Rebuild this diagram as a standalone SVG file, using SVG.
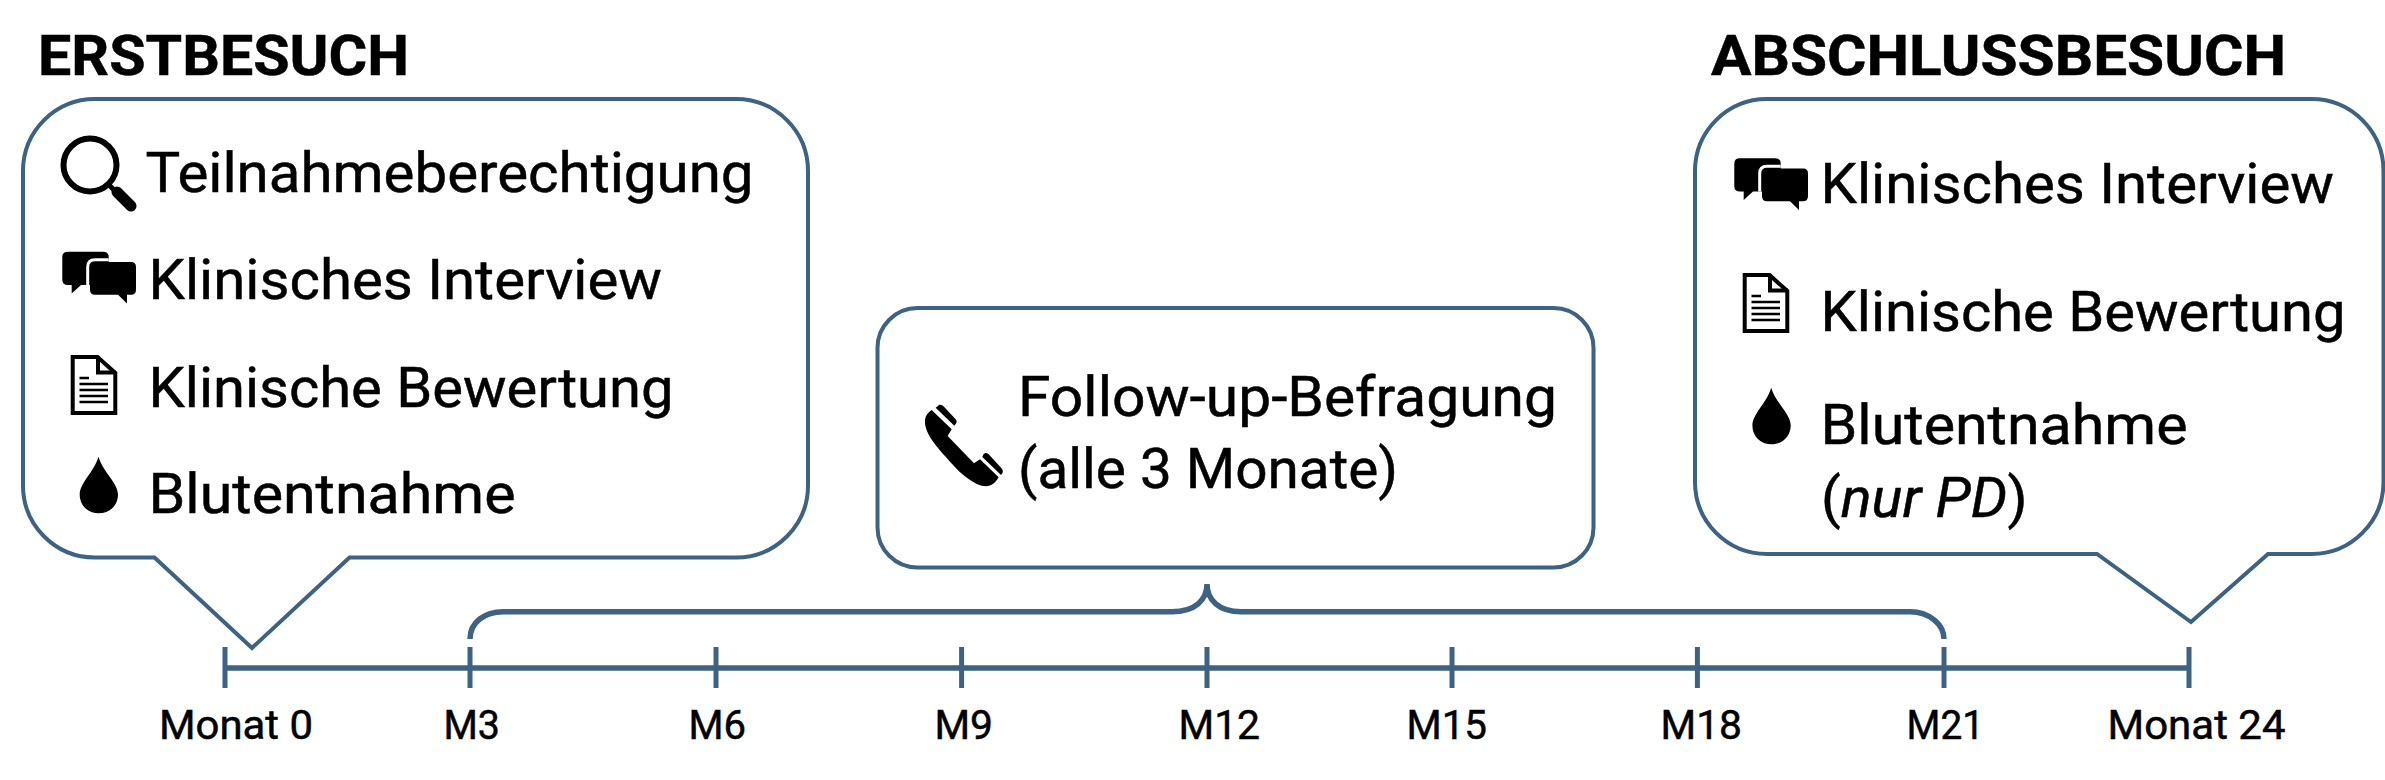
<svg xmlns="http://www.w3.org/2000/svg" xmlns:xlink="http://www.w3.org/1999/xlink" width="2385" height="780" viewBox="0 0 2385 780">
<style>
text{font-family:Roboto,"Liberation Sans",sans-serif;fill:#000;stroke:#000;stroke-width:.5}
.h{font-size:56px;font-weight:700}
.t{font-size:56px}
.a{font-size:40px}
.box{fill:#fff;stroke:#3d6284;stroke-width:4;stroke-linejoin:miter}
.line{fill:none;stroke:#3d6284;stroke-width:5.5}
.tick{stroke:#3d6284;stroke-width:5}
</style>
<defs>
<g id="chat">
<path d="M68,251.7H103Q108.7,251.7 108.7,257V280Q108.7,285 103,285H81L71.7,293.5V285H68Q62.3,285 62.3,280V257Q62.3,251.7 68,251.7Z" fill="#000"/>
<path d="M95,262H131Q136,262 136,267V289.7Q136,294.7 131,294.7H127V303.5L118,294.7H95Q90,294.7 90,289.7V267Q90,262 95,262Z" fill="#000"/>
<path d="M108.7,259.7H95Q87.7,259.7 87.7,267V285" fill="none" stroke="#fff" stroke-width="3"/>
</g>
<g id="doc">
<path d="M72.7,357H97.5L115.3,373V413H72.7Z" fill="#fff" stroke="#000" stroke-width="4"/>
<path d="M98,356V372.5H116" fill="none" stroke="#000" stroke-width="4"/>
<path d="M79.5,378H89M79.5,384H108M79.5,390H108M79.5,396H108M79.5,402H108" fill="none" stroke="#000" stroke-width="2.6"/>
</g>
<path id="drop" d="M98.5,456.7C103,472 118,483 118,494.5C118,505.5 109.5,513.3 98.8,513.3C88,513.3 79.7,505.5 79.7,494.5C79.7,483 94,472 98.5,456.7Z" fill="#000"/>
</defs>
<rect width="2385" height="780" fill="#fff" stroke="none"/>

<g id="connectors">
<path class="line" d="M225,668H2189"/>
<path class="tick" d="M225,647V688M470,647V688M716,647V688M961.6,647V688M1207,647V688M1452,647V688M1697.4,647V688M1944,647V688M2189,647V688"/>
<path class="line" d="M470,639C470,622 485,611.7 503,611.7H1172C1195,611.7 1207,600 1207,584C1207,600 1219,611.7 1241,611.7H1910C1930,611.7 1944,625 1944,639"/>
</g>

<g id="node-erstbesuch">
<text class="h" x="38" y="75" textLength="371" lengthAdjust="spacingAndGlyphs">ERSTBESUCH</text>
<path class="box" d="M95,99H736A72,72 0 0 1 808,171V485A72,72 0 0 1 736,557.5H349.5L252,648L154.5,557.5H95A72,72 0 0 1 23,485V171A72,72 0 0 1 95,99Z"/>
<g id="icon-search">
<circle cx="90" cy="165" r="26.5" fill="none" stroke="#000" stroke-width="6"/>
<path d="M108,184L116,192" stroke="#000" stroke-width="5"/>
<path d="M117,192L131,206" stroke="#000" stroke-width="11" stroke-linecap="round"/>
</g>
<text class="t" x="145.5" y="192" textLength="608" lengthAdjust="spacingAndGlyphs">Teilnahmeberechtigung</text>
<use href="#chat" xlink:href="#chat"/>
<text class="t" x="148.5" y="299" textLength="513.5" lengthAdjust="spacingAndGlyphs">Klinisches Interview</text>
<use href="#doc" xlink:href="#doc"/>
<text class="t" x="148.5" y="407" textLength="525" lengthAdjust="spacingAndGlyphs">Klinische Bewertung</text>
<use href="#drop" xlink:href="#drop"/>
<text class="t" x="148.5" y="513" textLength="367" lengthAdjust="spacingAndGlyphs">Blutentnahme</text>
</g>

<g id="node-followup">
<rect class="box" x="877.5" y="308" width="716" height="259.5" rx="40" ry="40"/>
<path id="icon-phone" transform="translate(900,380) scale(0.3333)" d="M95,90L155,148L143,168L222,250L240,238L296,292C286,308 275,319 258,319C225,317 185,285 150,245C110,200 72,160 75,120C76,107 84,97 95,90ZM117,75C122,73 128,76 132,80L167,118C171,123 171,128 167,132L163,137L107,83ZM251,222L256,219C260,219 265,221 268,225L304,264C309,270 310,275 307,280L303,285L247,231Z" fill="#000"/>
<text class="t" x="1018" y="416" textLength="539" lengthAdjust="spacingAndGlyphs">Follow-up-Befragung</text>
<text class="t" x="1018" y="488" textLength="380" lengthAdjust="spacingAndGlyphs">(alle 3 Monate)</text>
</g>

<g id="node-abschlussbesuch">
<text class="h" x="1711" y="75" textLength="575" lengthAdjust="spacingAndGlyphs">ABSCHLUSSBESUCH</text>
<path class="box" d="M1767,99H2311.5A72,72 0 0 1 2383.5,171V482A72,72 0 0 1 2311.5,554H2268L2191,622L2097,554H1767A72,72 0 0 1 1695,482V171A72,72 0 0 1 1767,99Z"/>
<use href="#chat" xlink:href="#chat" x="1672" y="-93.4"/>
<text class="t" x="1820.5" y="203" textLength="513.5" lengthAdjust="spacingAndGlyphs">Klinisches Interview</text>
<use href="#doc" xlink:href="#doc" x="1672" y="-82"/>
<text class="t" x="1820.5" y="331" textLength="525" lengthAdjust="spacingAndGlyphs">Klinische Bewertung</text>
<use href="#drop" xlink:href="#drop" x="1672.7" y="-69"/>
<text class="t" x="1820.5" y="444" textLength="367" lengthAdjust="spacingAndGlyphs">Blutentnahme</text>
<text class="t" x="1821" y="517" textLength="206.5" lengthAdjust="spacingAndGlyphs">(<tspan font-style="italic">nur PD</tspan>)</text>
</g>

<g id="axis-labels">
<text class="a" x="159" y="739" textLength="154" lengthAdjust="spacingAndGlyphs">Monat 0</text>
<text class="a" x="443.5" y="739" textLength="56.5" lengthAdjust="spacingAndGlyphs">M3</text>
<text class="a" x="688.5" y="739" textLength="57.5" lengthAdjust="spacingAndGlyphs">M6</text>
<text class="a" x="934.5" y="739" textLength="58.5" lengthAdjust="spacingAndGlyphs">M9</text>
<text class="a" x="1178.5" y="739" textLength="81.5" lengthAdjust="spacingAndGlyphs">M12</text>
<text class="a" x="1406.5" y="739" textLength="80.5" lengthAdjust="spacingAndGlyphs">M15</text>
<text class="a" x="1660.5" y="739" textLength="81.5" lengthAdjust="spacingAndGlyphs">M18</text>
<text class="a" x="1906.5" y="739" textLength="77.5" lengthAdjust="spacingAndGlyphs">M21</text>
<text class="a" x="2107.5" y="739" textLength="178" lengthAdjust="spacingAndGlyphs">Monat 24</text>
</g>
</svg>
